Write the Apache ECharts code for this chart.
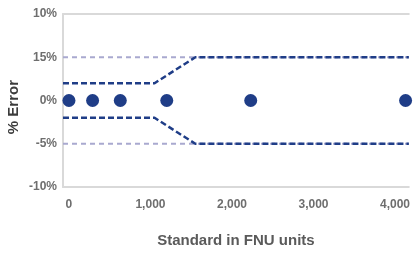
<!DOCTYPE html>
<html>
<head>
<meta charset="utf-8">
<script src="https://cdn.jsdelivr.net/npm/echarts@6/dist/echarts.min.js"></script>
<style>
html, body { margin: 0; padding: 0; background: #fff; }
#chart { width: 413px; height: 253px; }
</style>
</head>
<body>
<div id="chart"></div>
<script>
// measured standards vs % error
const standards = [0, 290, 630, 1200, 2230, 4130];
const errors = [0, 0, 0, 0, 0, 0];

// spec limit lines (x, %)
const limitX = [-73, 1050, 1550, 4170];
const upperLimit = [2, 2, 5, 5];
const lowerLimit = [-2, -2, -5, -5];
const refX = [-73, 4170];
const refUpper = [5, 5];
const refLower = [-5, -5];

const xTicks = [0, 1000, 2000, 3000, 4000];
// tick labels as printed on the original
const yTickLabels = { '10': '10%', '5': '15%', '0': '0%', '-5': '-5%', '-10': '-10%' };

const chart = echarts.init(document.getElementById('chart'));

const navy = '#1f3d87';
const font = 'Liberation Sans, Arial';
const labelStyle = { color: '#6e6e6e', fontWeight: 'bold', fontSize: 12, fontFamily: font };
const frameLine = { show: true, onZero: false, lineStyle: { color: '#d9d9d9', width: 2 } };

function zip(xs, ys) {
    return xs.map((x, i) => [x, ys[i]]);
}

chart.setOption({
    animation: false,
    grid: { left: 63, right: 0, top: 14, bottom: 63 },
    graphic: [{
        type: 'text',
        left: 6,
        top: 80,
        rotation: Math.PI / 2,
        style: {
            text: '% Error',
            fill: '#3c3c3c',
            font: 'bold 15px ' + font
        }
    }],
    xAxis: [{
        type: 'value',
        min: -73,
        max: 4170,
        name: 'Standard in FNU units',
        nameLocation: 'middle',
        nameGap: 46,
        nameTextStyle: { color: '#5a5a5a', fontWeight: 'bold', fontSize: 15, fontFamily: font },
        axisLine: frameLine,
        axisTick: { show: false },
        splitLine: { show: false },
        axisLabel: Object.assign({
            customValues: xTicks,
            margin: 12,
            formatter: v => v.toLocaleString('en-US')
        }, labelStyle)
    }, {
        type: 'value',
        position: 'top',
        min: -73,
        max: 4170,
        axisLine: frameLine,
        axisTick: { show: false },
        axisLabel: { show: false },
        splitLine: { show: false }
    }],
    yAxis: {
        type: 'value',
        min: -10,
        max: 10,
        interval: 5,
        axisLine: frameLine,
        axisTick: { show: false },
        splitLine: { show: false },
        axisLabel: Object.assign({
            margin: 6,
            formatter: v => yTickLabels[String(v)]
        }, labelStyle)
    },
    series: [
        {
            type: 'line',
            data: zip(refX, refUpper),
            symbol: 'none',
            lineStyle: { color: '#a9a9cf', width: 2, type: [5, 4] },
            z: 1
        },
        {
            type: 'line',
            data: zip(refX, refLower),
            symbol: 'none',
            lineStyle: { color: '#a9a9cf', width: 2, type: [5, 4] },
            z: 1
        },
        {
            type: 'line',
            data: zip(limitX, upperLimit),
            symbol: 'none',
            lineStyle: { color: navy, width: 2.5, type: [6, 3] },
            z: 2
        },
        {
            type: 'line',
            data: zip(limitX, lowerLimit),
            symbol: 'none',
            lineStyle: { color: navy, width: 2.5, type: [6, 3] },
            z: 2
        },
        {
            type: 'scatter',
            data: zip(standards, errors),
            symbolSize: 13,
            itemStyle: { color: navy, opacity: 1 },
            z: 3
        }
    ]
});
</script>
</body>
</html>
